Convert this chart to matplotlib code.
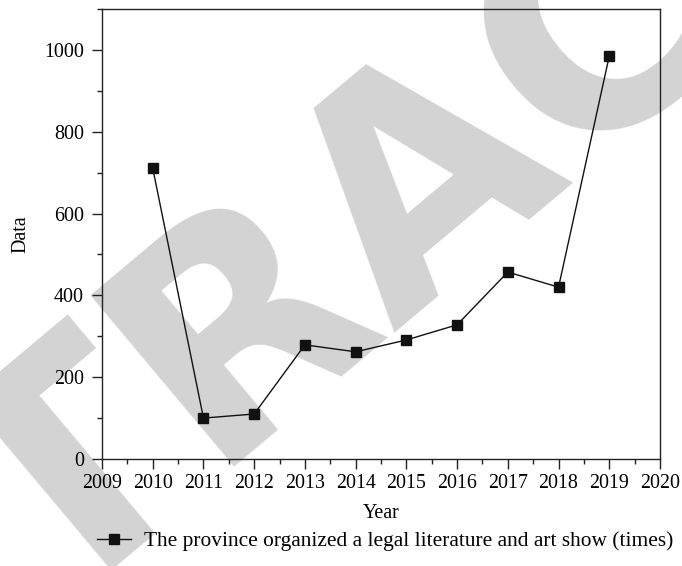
import matplotlib
matplotlib.use("Agg")
import matplotlib.pyplot as plt
from matplotlib.ticker import MultipleLocator
from matplotlib.lines import Line2D

years = [2010, 2011, 2012, 2013, 2014, 2015, 2016, 2017, 2018, 2019]
values = [711, 100, 110, 279, 262, 291, 328, 457, 420, 985]
series_label = "The province organized a legal literature and art show (times)"
x_label = "Year"
y_label = "Data"
watermark = "RETRACTED"

plt.rcParams['font.family'] = ['Liberation Serif', 'DejaVu Serif']

fig = plt.figure(figsize=(6.82, 5.66), dpi=100)
fig.text(0.625, 0.695, watermark, fontsize=220, fontfamily='DejaVu Sans',
         fontweight='bold', color='#d3d3d3', rotation=40,
         ha='center', va='center', zorder=-5, rotation_mode='anchor')

ax = fig.add_axes([102/682, 1 - 459/566, (660-102)/682, (459-9)/566])
ax.set_facecolor('none')
ax.plot(years, values, color='#111111', lw=1.0, marker='s', markersize=6.5,
        markerfacecolor='#111111', markeredgecolor='#111111')

ax.set_xlim(2009, 2020)
ax.set_ylim(0, 1100)
ax.xaxis.set_major_locator(MultipleLocator(1))
ax.xaxis.set_minor_locator(MultipleLocator(0.5))
ax.yaxis.set_major_locator(MultipleLocator(200))
ax.yaxis.set_minor_locator(MultipleLocator(100))
ax.tick_params(which='both', direction='out', top=False, right=False,
               labelsize=14.4, width=1, color='#222222')
ax.tick_params(which='major', length=7)
ax.tick_params(axis='y', which='major', pad=6)
ax.tick_params(axis='x', which='major', pad=4)
ax.tick_params(which='minor', length=3.8)
for s in ax.spines.values():
    s.set_linewidth(1)
    s.set_color('#222222')

ax.set_xlabel(x_label, fontsize=14.4, labelpad=8)
ax.set_ylabel(y_label, fontsize=14.4, labelpad=10)

handle = Line2D([], [], color='#111111', lw=1.0, marker='s', markersize=6.5)
fig.legend([handle], [series_label], loc='center', bbox_to_anchor=(0.565, 1 - 541/566),
           frameon=False, fontsize=15.4, handlelength=1.6, handletextpad=0.6,
           borderaxespad=0, borderpad=0)

fig.savefig("out.png", dpi=100)
